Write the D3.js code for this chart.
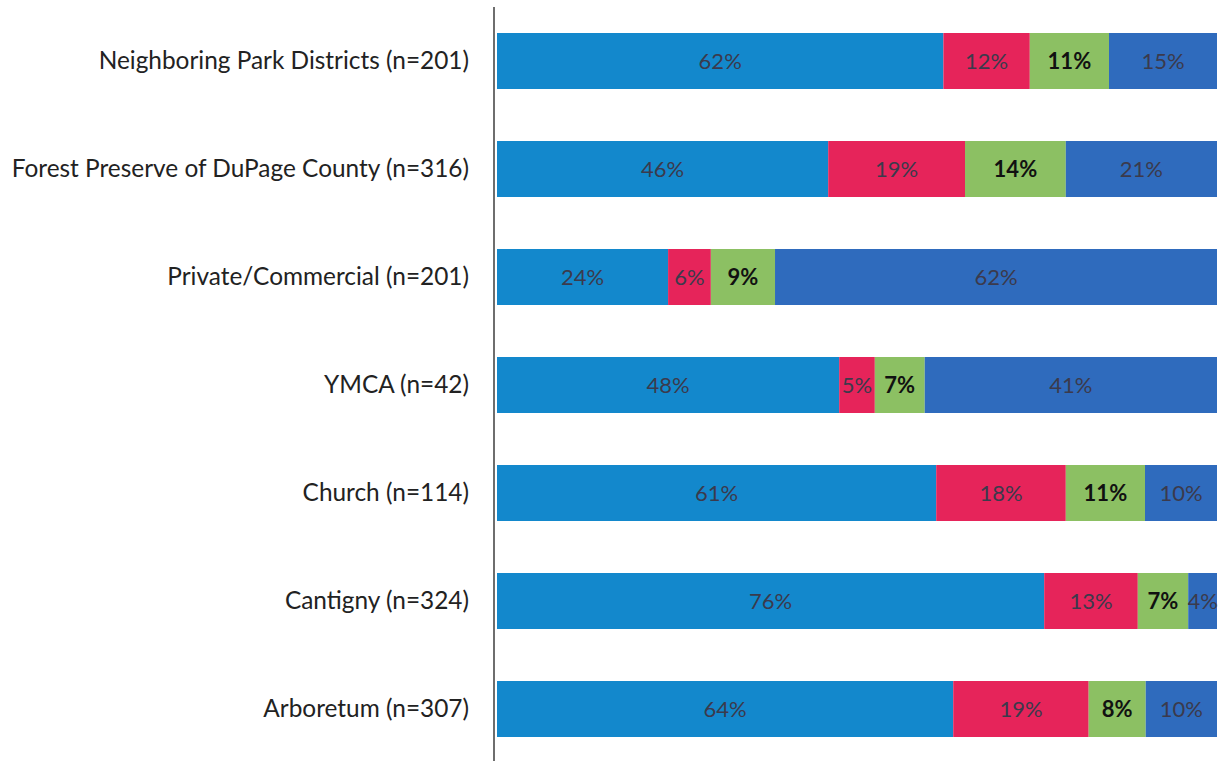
<!DOCTYPE html>
<html>
<head>
<meta charset="utf-8">
<script src="https://cdn.jsdelivr.net/npm/d3@7"></script>
<style>
  body { margin: 0; background: #fff; }
  svg text { font-family: Lato, "Open Sans", sans-serif; }
</style>
</head>
<body>
<script>
// categories, top to bottom
var categories = [
    "Neighboring Park Districts (n=201)",
    "Forest Preserve of DuPage County (n=316)",
    "Private/Commercial (n=201)",
    "YMCA (n=42)",
    "Church (n=114)",
    "Cantigny (n=324)",
    "Arboretum (n=307)"
];

// one array per stacked segment
var seriesKeys = ["s1", "s2", "s3", "s4"];
var s1 = [62, 46, 24, 48, 61, 76, 64];
var s2 = [12, 19, 6, 5, 18, 13, 19];
var s3 = [11, 14, 9, 7, 11, 7, 8];
var s4 = [15, 21, 62, 41, 10, 4, 10];

var colors = ["#1388cc", "#e6245a", "#8cc063", "#2f6bbd"];

var width = 1225, height = 761;
var left = 497, right = 1217;

var rows = categories.map(function(c, i) {
    return {cat: c, s1: s1[i], s2: s2[i], s3: s3[i], s4: s4[i]};
});

var stack = d3.stack().keys(seriesKeys).offset(d3.stackOffsetExpand);
var layers = stack(rows);

var x = d3.scaleLinear().domain([0, 1]).range([left, right]);
var y = d3.scaleBand().domain(categories)
    .range([7, 763]).paddingInner(0.4815).paddingOuter(0.4815 / 2);

var svg = d3.select("body").append("svg")
    .attr("width", width)
    .attr("height", height);

var groups = svg.selectAll("g.layer")
    .data(layers)
    .enter()
    .append("g")
    .attr("class", "layer")
    .attr("fill", function(d, i) { return colors[i]; });

groups.selectAll("rect")
    .data(function(d) { return d; })
    .enter()
    .append("rect")
    .attr("x", function(d) { return x(d[0]); })
    .attr("y", function(d) { return y(d.data.cat); })
    .attr("width", function(d) { return x(d[1]) - x(d[0]); })
    .attr("height", y.bandwidth());

// value labels
groups.each(function(layer, li) {
    d3.select(this).selectAll("text")
        .data(layer)
        .enter()
        .append("text")
        .attr("x", function(d) { return (x(d[0]) + x(d[1])) / 2; })
        .attr("y", function(d) { return y(d.data.cat) + y.bandwidth() / 2; })
        .attr("dy", "0.36em")
        .attr("text-anchor", "middle")
        .style("font-size", "22px")
        .style("font-weight", li == 2 ? "bold" : "normal")
        .attr("fill", li == 2 ? "#111" : "#3b3a4c")
        .text(function(d) { return d.data[layer.key] + "%"; });
});

// category axis
var axis = d3.axisLeft(y).tickSize(0).tickPadding(25);
var gAxis = svg.append("g")
    .attr("transform", "translate(494,0)")
    .call(axis);
gAxis.select(".domain").remove();
gAxis.selectAll("text")
    .style("font-size", "24.4px")
    .attr("fill", "#222");

svg.append("line")
    .attr("x1", 494).attr("x2", 494)
    .attr("y1", 7).attr("y2", height)
    .attr("stroke", "#6e6e6e")
    .attr("stroke-width", 2);
</script>
</body>
</html>
